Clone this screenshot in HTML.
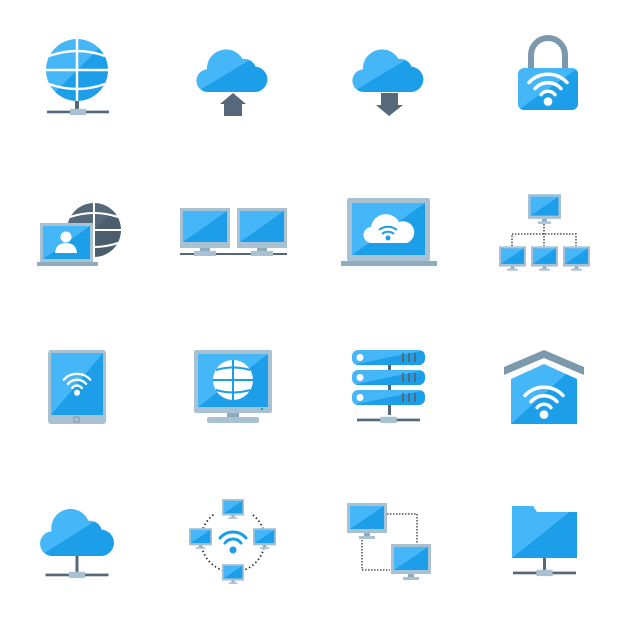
<!DOCTYPE html>
<html><head><style>html,body{margin:0;padding:0;background:#fff;width:626px;height:626px;overflow:hidden}</style></head>
<body>
<svg width="626" height="626" viewBox="0 0 626 626" xmlns="http://www.w3.org/2000/svg">
<defs>
<linearGradient id="g" x1="0" y1="0" x2="1" y2="1"><stop offset="0.5" stop-color="#45b6f8"/><stop offset="0.5" stop-color="#1c9ee9"/></linearGradient>
<linearGradient id="gd" x1="0" y1="0" x2="1" y2="1"><stop offset="0.5" stop-color="#56697a"/><stop offset="0.5" stop-color="#4b5e6e"/></linearGradient>
<symbol id="wifi" viewBox="-30 -30 60 60">
<g fill="none" stroke="#fff" stroke-width="4" stroke-linecap="round">
<path d="M-22,-4 A30,30 0 0 1 22,-4"/><path d="M-15,3 A20,20 0 0 1 15,3"/><path d="M-8,10 A10,10 0 0 1 8,10"/></g>
<circle cx="0" cy="18" r="5" fill="#fff"/></symbol>
<symbol id="mon" viewBox="0 0 40 36">
<rect x="0" y="0" width="40" height="30" fill="#a9c2d3"/><rect x="3" y="3" width="34" height="23" fill="url(#g)"/>
<rect x="17" y="30" width="6" height="3" fill="#8fabbf"/><rect x="12" y="33" width="16" height="3" fill="#a9c2d3"/></symbol>
<symbol id="base" viewBox="0 0 70 10">
<rect x="0" y="4" width="70" height="3" fill="#56697a"/><rect x="26" y="2" width="18" height="7" fill="#a9c2d3"/></symbol>
</defs>

<g>
<circle cx="77" cy="70" r="31" fill="url(#g)"/>
<g stroke="#fff" stroke-width="2.5" fill="none">
<line x1="77" y1="38" x2="77" y2="102"/>
<path d="M49,56 Q77,46 105,56"/><path d="M46,70 L108,70"/><path d="M49,84 Q77,94 105,84"/>
</g>
<rect x="75" y="101" width="4" height="11" fill="#56697a"/>
<use href="#base" x="47" y="107" width="62" height="9"/>
</g>
<path transform="translate(233,92) scale(0.87) translate(-233,-92)" d="M205,92 a13,13 0 0 1 -2,-26 a22,22 0 0 1 41,-12 a14,14 0 0 1 15,9 a14,14 0 0 1 -2,29 z" fill="url(#g)"/>
<path d="M233,93 L246,104 L242,104 L242,116 L224,116 L224,104 L220,104 z" fill="#56697a"/>
<path transform="translate(389,92) scale(0.87) translate(-389,-92)" d="M361,92 a13,13 0 0 1 -2,-26 a22,22 0 0 1 41,-12 a14,14 0 0 1 15,9 a14,14 0 0 1 -2,29 z" fill="url(#g)"/>
<path d="M381,93 L398,93 L398,105 L403,105 L389,116 L376,105 L381,105 z" fill="#56697a"/>
<path d="M531,70 L531,55 A17,17 0 0 1 565,55 L565,70" fill="none" stroke="#7b98ad" stroke-width="6"/>
<rect x="518" y="68" width="60" height="42" rx="6" fill="url(#g)"/>
<use href="#wifi" x="522" y="60" width="52" height="52"/>

<circle cx="94" cy="230" r="27" fill="url(#gd)"/>
<g stroke="#fff" stroke-width="2" fill="none">
<line x1="94" y1="203" x2="94" y2="257"/><path d="M70,217 Q94,209 118,217"/><line x1="67" y1="230" x2="121" y2="230"/><path d="M70,243 Q94,251 118,243"/></g>
<rect x="40" y="223" width="53" height="40" fill="#a9c2d3"/><rect x="43" y="226" width="47" height="33" fill="url(#g)"/>
<circle cx="66" cy="237" r="5.5" fill="#fff"/><path d="M55,253 Q56,243 66,243 Q76,243 77,253 z" fill="#fff"/>
<rect x="37" y="262" width="61" height="4" fill="#8fabbf"/>
<rect x="180" y="208" width="50" height="40" fill="#a9c2d3"/><rect x="183" y="211" width="44" height="31" fill="url(#g)"/>
<rect x="237" y="208" width="50" height="40" fill="#a9c2d3"/><rect x="240" y="211" width="44" height="31" fill="url(#g)"/>
<rect x="180" y="253" width="107" height="2" fill="#56697a"/>
<rect x="200" y="248" width="10" height="4" fill="#8fabbf"/><rect x="194" y="251" width="22" height="5" fill="#a9c2d3"/>
<rect x="257" y="248" width="10" height="4" fill="#8fabbf"/><rect x="251" y="251" width="22" height="5" fill="#a9c2d3"/>
<rect x="347" y="198" width="83" height="63" rx="2" fill="#a9c2d3"/><rect x="352" y="203" width="73" height="52" fill="url(#g)"/>
<rect x="341" y="261" width="96" height="5" fill="#8fabbf"/>
<path d="M372,243 a8,8 0 0 1 -1,-16 a15,15 0 0 1 28,-5 a10,10 0 0 1 8,21 z" fill="#fff"/>
<g fill="none" stroke="#1c9ee9" stroke-width="2"><path d="M379,230 A14,14 0 0 1 397,230"/><path d="M382,234 A9,9 0 0 1 394,234"/></g>
<circle cx="388" cy="238" r="2.5" fill="#1c9ee9"/>
<use href="#mon" x="528" y="194" width="33" height="30"/>
<g stroke="#333" stroke-width="1.3" stroke-dasharray="1.5,1.5" fill="none">
<path d="M544,224 L544,246"/><path d="M512,246 L512,234 L576,234 L576,246"/></g>
<use href="#mon" x="499" y="246" width="27" height="25"/>
<use href="#mon" x="531" y="246" width="27" height="25"/>
<use href="#mon" x="563" y="246" width="27" height="25"/>

<rect x="48" y="350" width="58" height="74" rx="3" fill="#a9c2d3"/><rect x="51" y="353" width="52" height="62" fill="url(#g)"/>
<rect x="74" y="417" width="5" height="5" fill="none" stroke="#7b98ad" stroke-width="1"/>
<use href="#wifi" x="59" y="364" width="36" height="36"/>
<rect x="194" y="350" width="78" height="63" rx="2" fill="#a9c2d3"/><rect x="198" y="354" width="70" height="53" fill="url(#g)"/>
<circle cx="262" cy="409" r="1.2" fill="#2a8"/>
<rect x="227" y="413" width="12" height="5" fill="#8fabbf"/><rect x="207" y="417" width="52" height="6" rx="2" fill="#a9c2d3"/>
<circle cx="233" cy="380" r="20" fill="#fff"/>
<g stroke="#1c9ee9" stroke-width="2" fill="none"><line x1="233" y1="360" x2="233" y2="400"/><path d="M216,370 Q233,365 250,370"/><line x1="213" y1="380" x2="253" y2="380"/><path d="M216,390 Q233,395 250,390"/></g>
<rect x="388" y="360" width="3" height="55" fill="#56697a"/>
<g fill="url(#g)"><rect x="352" y="350" width="73" height="15" rx="6"/><rect x="352" y="370" width="73" height="15" rx="6"/><rect x="352" y="390" width="73" height="15" rx="6"/></g>
<g fill="#fff"><circle cx="360" cy="357.5" r="3.5"/><circle cx="360" cy="377.5" r="3.5"/><circle cx="360" cy="397.5" r="3.5"/></g>
<g fill="#56697a"><rect x="402" y="353" width="2" height="9"/><rect x="408" y="353" width="2" height="9"/><rect x="414" y="353" width="2" height="9"/>
<rect x="402" y="373" width="2" height="9"/><rect x="408" y="373" width="2" height="9"/><rect x="414" y="373" width="2" height="9"/>
<rect x="402" y="393" width="2" height="9"/><rect x="408" y="393" width="2" height="9"/><rect x="414" y="393" width="2" height="9"/></g>
<use href="#base" x="352" y="415" width="73" height="9"/>
<path d="M504,367 L544,350 L584,367 L584,375 L544,358 L504,375 z" fill="#7b98ad"/>
<path d="M511,379 L544,364 L577,379 L577,424 L511,424 z" fill="url(#g)"/>
<use href="#wifi" x="518" y="373" width="52" height="52"/>

<path transform="translate(77,556) scale(0.88) translate(-79,-556)" d="M52,556 a14,14 0 0 1 -2,-28 a22,22 0 0 1 42,-12 a14,14 0 0 1 15,10 a15,15 0 0 1 -2,30 z" fill="url(#g)"/>
<rect x="75.5" y="556" width="3" height="16" fill="#56697a"/>
<use href="#base" x="42" y="570" width="70" height="9"/>
<circle cx="233" cy="540" r="32" fill="none" stroke="#333" stroke-width="1.8" stroke-dasharray="1.5,2.5"/>
<rect x="215" y="498" width="36" height="22" fill="#fff"/>
<use href="#mon" x="222" y="499" width="22" height="20"/>
<use href="#mon" x="189" y="528" width="23" height="21"/>
<use href="#mon" x="253" y="528" width="23" height="21"/>
<use href="#mon" x="222" y="564" width="22" height="20"/>
<g fill="none" stroke="#1c9ee9" stroke-width="3" stroke-linecap="round"><path d="M220,538 A17,17 0 0 1 246,538"/><path d="M225,543 A10,10 0 0 1 241,543"/></g>
<circle cx="233" cy="550" r="3.5" fill="#1c9ee9"/>
<g stroke="#333" stroke-width="1.3" stroke-dasharray="1.5,1.5" fill="none">
<path d="M387,514 L417,514 L417,544"/><path d="M362,540 L362,570 L390,570"/></g>
<use href="#mon" x="347" y="503" width="40" height="36"/>
<use href="#mon" x="391" y="544" width="40" height="36"/>
<path d="M512,506 L533,506 L537,512 L577,512 L577,558 L512,558 z" fill="url(#g)"/>
<rect x="543" y="558" width="3" height="12" fill="#56697a"/>
<use href="#base" x="512" y="568" width="65" height="9"/>
</svg>
</body></html>
